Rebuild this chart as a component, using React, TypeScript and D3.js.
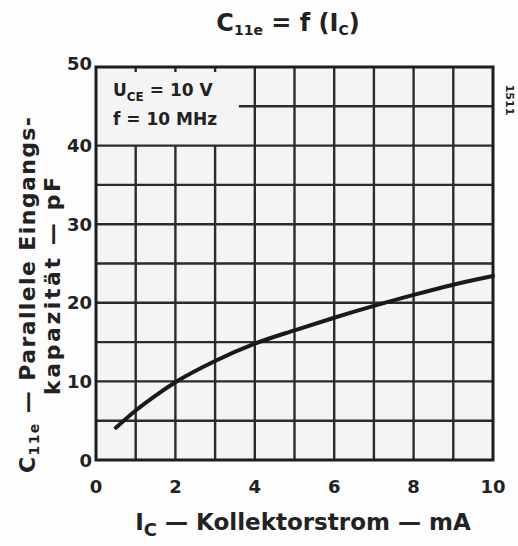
import React, { useEffect, useRef } from 'react';
import * as d3 from 'd3';

// collector current (mA) vs. parallel input capacitance (pF)
const icValues = [0.5, 1, 1.5, 2, 3, 4, 5, 6, 7, 8, 9, 10];
const c11eValues = [4.1, 6.3, 8.2, 9.9, 12.6, 14.8, 16.5, 18.1, 19.6, 21.0, 22.3, 23.4];

const xTicks = [0, 2, 4, 6, 8, 10];
const yTicks = [0, 10, 20, 30, 40, 50];

const FONT = "'DejaVu Sans', sans-serif";

const App = () => {
  const svgRef = useRef<SVGSVGElement | null>(null);

  useEffect(() => {
    const svg = d3.select(svgRef.current);
    svg.selectAll('*').remove();

    const W = 518, H = 546;
    svg.attr('width', W).attr('height', H);

    const x = d3.scaleLinear().domain([0, 10]).range([96, 493]);
    const y = d3.scaleLinear().domain([0, 50]).range([460, 67]);

    svg.append('rect').attr('width', W).attr('height', H).attr('fill', '#fdfdfd');

    svg.append('rect')
      .attr('x', x(0)).attr('y', y(50))
      .attr('width', x(10) - x(0)).attr('height', y(0) - y(50))
      .attr('fill', '#f4f4f4');

    const grid = svg.append('g').attr('stroke', '#2b2b2b').attr('stroke-width', 2.4);

    // vertical grid, every 1 mA; inside the note box only short stubs remain at the top
    d3.range(1, 10).forEach(v => {
      if (v < 4) {
        grid.append('line').attr('x1', x(v)).attr('x2', x(v)).attr('y1', y(50)).attr('y2', y(50) + 5);
        grid.append('line').attr('x1', x(v)).attr('x2', x(v)).attr('y1', y(40)).attr('y2', y(0));
      } else {
        grid.append('line').attr('x1', x(v)).attr('x2', x(v)).attr('y1', y(50)).attr('y2', y(0));
      }
    });

    // horizontal grid, every 5 pF
    d3.range(5, 50, 5).forEach(v => {
      const x1 = v === 45 ? x(3.6) : x(0);
      grid.append('line').attr('x1', x1).attr('x2', x(10)).attr('y1', y(v)).attr('y2', y(v));
    });

    // frame
    svg.append('rect')
      .attr('x', x(0)).attr('y', y(50))
      .attr('width', x(10) - x(0)).attr('height', y(0) - y(50))
      .attr('fill', 'none').attr('stroke', '#1e1e1e').attr('stroke-width', 3);

    // curve
    const line = d3.line<number>()
      .x((_, i) => x(icValues[i]))
      .y(d => y(d))
      .curve(d3.curveMonotoneX);

    svg.append('path')
      .datum(c11eValues)
      .attr('d', line)
      .attr('fill', 'none')
      .attr('stroke', '#1a1a1a')
      .attr('stroke-width', 4)
      .attr('stroke-linecap', 'round');

    // tick labels
    svg.append('g').selectAll('text').data(yTicks).join('text')
      .attr('x', 92).attr('y', d => y(d) - (d === 50 ? 4 : 0))
      .attr('text-anchor', 'end').attr('dominant-baseline', 'central')
      .attr('font-family', FONT).attr('font-size', 18).attr('font-weight', 'bold')
      .attr('fill', '#222')
      .text(d => d);

    svg.append('g').selectAll('text').data(xTicks).join('text')
      .attr('x', d => x(d)).attr('y', 486)
      .attr('text-anchor', 'middle').attr('dominant-baseline', 'central')
      .attr('font-family', FONT).attr('font-size', 18).attr('font-weight', 'bold')
      .attr('fill', '#222')
      .text(d => d);

    // note in the upper left
    const note = svg.append('g')
      .attr('font-family', FONT).attr('font-size', 17).attr('font-weight', 'bold').attr('fill', '#222');
    const n1 = note.append('text').attr('x', 113).attr('y', 96);
    n1.append('tspan').text('U');
    n1.append('tspan').attr('font-size', 12).attr('dy', 5).text('CE');
    n1.append('tspan').attr('dy', -5).text(' = 10 V');
    note.append('text').attr('x', 113).attr('y', 125).text('f = 10 MHz');

    // title
    const title = svg.append('text')
      .attr('x', 288).attr('y', 31).attr('text-anchor', 'middle')
      .attr('font-family', FONT).attr('font-size', 24).attr('font-weight', 'bold').attr('fill', '#222');
    title.append('tspan').text('C');
    title.append('tspan').attr('font-size', 14).attr('dy', 4).text('11e');
    title.append('tspan').attr('dy', -4).text(' = f (I');
    title.append('tspan').attr('font-size', 14).attr('dy', 4).text('C');
    title.append('tspan').attr('dy', -4).text(')');

    // x axis title
    const xt = svg.append('text')
      .attr('x', 303).attr('y', 530).attr('text-anchor', 'middle')
      .attr('font-family', FONT).attr('font-size', 23).attr('font-weight', 'bold').attr('fill', '#222');
    xt.append('tspan').text('I');
    xt.append('tspan').attr('font-size', 18).attr('dy', 6).text('C');
    xt.append('tspan').attr('dy', -6).text(' — Kollektorstrom — mA');

    // y axis title, two lines
    const yt1 = svg.append('text')
      .attr('transform', 'translate(35,295) rotate(-90)').attr('text-anchor', 'middle')
      .attr('font-family', FONT).attr('font-size', 22).attr('font-weight', 'bold').attr('fill', '#222')
      .attr('textLength', 356).attr('lengthAdjust', 'spacing');
    yt1.append('tspan').text('C');
    yt1.append('tspan').attr('font-size', 14).attr('dy', 4).text('11e');
    yt1.append('tspan').attr('dy', -4).text(' — Parallele  Eingangs-');

    svg.append('text')
      .attr('transform', 'translate(60,286) rotate(-90)').attr('text-anchor', 'middle')
      .attr('font-family', FONT).attr('font-size', 22).attr('font-weight', 'bold').attr('fill', '#222')
      .attr('textLength', 218).attr('lengthAdjust', 'spacing')
      .text('kapazität  — pF');

    // figure number on the right
    svg.append('text')
      .attr('transform', 'translate(506,100) rotate(90)').attr('text-anchor', 'middle')
      .attr('font-family', FONT).attr('font-size', 11).attr('font-weight', 'bold').attr('fill', '#222')
      .text('1511');
  }, []);

  return (
    <div style={{ position: 'absolute', left: 0, top: 0 }}>
      <svg ref={svgRef}></svg>
    </div>
  );
};

export default App;
